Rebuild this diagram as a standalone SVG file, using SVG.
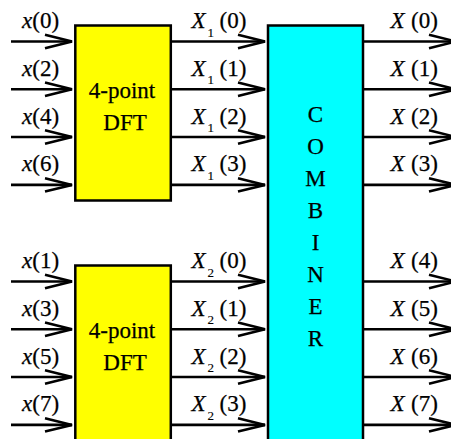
<svg xmlns="http://www.w3.org/2000/svg" width="451" height="439" viewBox="0 0 451 439">
<style>
text{font-family:"Liberation Serif","Times New Roman",Times,serif;font-size:23px;fill:#000;stroke:#000;stroke-width:0.25}
.it{font-style:italic}
.sub{font-size:13px;stroke-width:0.15}
.mid{text-anchor:middle}
.box{stroke:#000;stroke-width:2.5}
.dft{fill:#ffff00}
.comb{fill:#00ffff}
.ln{stroke:#000;stroke-width:2.6;fill:none;marker-end:url(#ah)}
</style>
<defs>
<marker id="ah" markerUnits="userSpaceOnUse" viewBox="-30 -10 32 20" refX="0" refY="0" markerWidth="32" markerHeight="20" orient="auto" overflow="visible">
<path d="M-27,-6.7 L0,0 L-27,6.7" fill="none" stroke="#000" stroke-width="2.6"/>
</marker>
</defs>
<g id="connectors">
<path class="ln" d="M11,41.5H72"/><path class="ln" d="M11,89.3H72"/><path class="ln" d="M11,137H72"/><path class="ln" d="M11,184.9H72"/>
<path class="ln" d="M11,281.5H72"/><path class="ln" d="M11,329.3H72"/><path class="ln" d="M11,377H72"/><path class="ln" d="M11,424.9H72"/>
<path class="ln" d="M171,41.5H265"/><path class="ln" d="M171,89.3H265"/><path class="ln" d="M171,137H265"/><path class="ln" d="M171,184.9H265"/>
<path class="ln" d="M171,281.5H265"/><path class="ln" d="M171,329.3H265"/><path class="ln" d="M171,377H265"/><path class="ln" d="M171,424.9H265"/>
<path class="ln" d="M363,41.5H456"/><path class="ln" d="M363,89.3H456"/><path class="ln" d="M363,137H456"/><path class="ln" d="M363,184.9H456"/>
<path class="ln" d="M363,281.5H456"/><path class="ln" d="M363,329.3H456"/><path class="ln" d="M363,377H456"/><path class="ln" d="M363,424.9H456"/>
</g>
<g id="dft1">
<rect class="box dft" x="75.3" y="25.5" width="95.5" height="175"/>
<text class="mid" x="122" y="98">4-point</text>
<text class="mid" x="125" y="129.5">DFT</text>
</g>
<g id="dft2">
<rect class="box dft" x="75.3" y="265.5" width="95.5" height="185"/>
<text class="mid" x="122" y="338">4-point</text>
<text class="mid" x="125" y="369.5">DFT</text>
</g>
<g id="combiner">
<rect class="box comb" x="268" y="25.5" width="95" height="425"/>
<text class="mid" x="315.5" y="121.5">C</text>
<text class="mid" x="315.5" y="153.5">O</text>
<text class="mid" x="315.5" y="185.5">M</text>
<text class="mid" x="315.5" y="217.5">B</text>
<text class="mid" x="315.5" y="249.5">I</text>
<text class="mid" x="315.5" y="281.5">N</text>
<text class="mid" x="315.5" y="313.5">E</text>
<text class="mid" x="315.5" y="345.5">R</text>
</g>
<g id="inputs">
<text x="22" y="28"><tspan class="it">x</tspan>(0)</text>
<text x="22" y="75.8"><tspan class="it">x</tspan>(2)</text>
<text x="22" y="123.5"><tspan class="it">x</tspan>(4)</text>
<text x="22" y="171.4"><tspan class="it">x</tspan>(6)</text>
<text x="22" y="268"><tspan class="it">x</tspan>(1)</text>
<text x="22" y="315.8"><tspan class="it">x</tspan>(3)</text>
<text x="22" y="363.5"><tspan class="it">x</tspan>(5)</text>
<text x="22" y="411.4"><tspan class="it">x</tspan>(7)</text>
</g>
<g id="mid-labels">
<text class="it" x="191.5" y="28">X</text><text class="sub" x="207.5" y="36.5">1</text><text x="219.5" y="28">(0)</text>
<text class="it" x="191.5" y="75.8">X</text><text class="sub" x="207.5" y="84.3">1</text><text x="219.5" y="75.8">(1)</text>
<text class="it" x="191.5" y="123.5">X</text><text class="sub" x="207.5" y="132">1</text><text x="219.5" y="123.5">(2)</text>
<text class="it" x="191.5" y="171.4">X</text><text class="sub" x="207.5" y="179.9">1</text><text x="219.5" y="171.4">(3)</text>
<text class="it" x="191.5" y="268">X</text><text class="sub" x="207.5" y="276.5">2</text><text x="219.5" y="268">(0)</text>
<text class="it" x="191.5" y="315.8">X</text><text class="sub" x="207.5" y="324.3">2</text><text x="219.5" y="315.8">(1)</text>
<text class="it" x="191.5" y="363.5">X</text><text class="sub" x="207.5" y="372">2</text><text x="219.5" y="363.5">(2)</text>
<text class="it" x="191.5" y="411.4">X</text><text class="sub" x="207.5" y="419.9">2</text><text x="219.5" y="411.4">(3)</text>
</g>
<g id="outputs">
<text class="it" x="390.5" y="28">X</text><text x="411" y="28">(0)</text>
<text class="it" x="390.5" y="75.8">X</text><text x="411" y="75.8">(1)</text>
<text class="it" x="390.5" y="123.5">X</text><text x="411" y="123.5">(2)</text>
<text class="it" x="390.5" y="171.4">X</text><text x="411" y="171.4">(3)</text>
<text class="it" x="390.5" y="268">X</text><text x="411" y="268">(4)</text>
<text class="it" x="390.5" y="315.8">X</text><text x="411" y="315.8">(5)</text>
<text class="it" x="390.5" y="363.5">X</text><text x="411" y="363.5">(6)</text>
<text class="it" x="390.5" y="411.4">X</text><text x="411" y="411.4">(7)</text>
</g>
</svg>
